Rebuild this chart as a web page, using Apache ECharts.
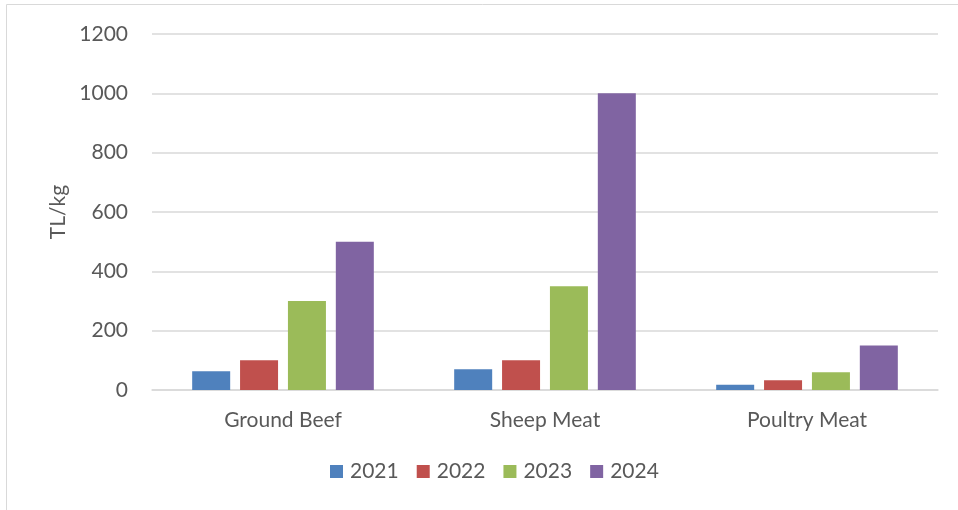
<!DOCTYPE html>
<html><head><meta charset="utf-8">
<script src="https://cdn.jsdelivr.net/npm/echarts@6/dist/echarts.min.js"></script>
<style>html,body{margin:0;padding:0;background:#fff}#c{width:958px;height:510px}</style>
</head><body><div id="c"></div>
<script>
const categories = ['Ground Beef', 'Sheep Meat', 'Poultry Meat'];
const years = ['2021', '2022', '2023', '2024'];
const s2021 = [63, 70, 18];
const s2022 = [100, 100, 33];
const s2023 = [300, 350, 60];
const s2024 = [500, 1000, 150];
const colors = ['#4f81bd', '#c0504d', '#9bbb59', '#8064a2'];
const seriesData = [s2021, s2022, s2023, s2024];
const font = 'Lato, "Noto Sans", sans-serif';
const chart = echarts.init(document.getElementById('c'));
chart.setOption({
  animation: false,
  textStyle: { fontFamily: font },
  graphic: [{ type: 'rect', shape: { x: 6.5, y: 4.5, width: 960, height: 510 }, style: { fill: 'none', stroke: '#d9d9d9', lineWidth: 1 }, silent: true }],
  grid: { left: 152, right: 20, top: 34, bottom: 120 },
  legend: {
    bottom: 23, left: 325, itemWidth: 13, itemHeight: 13, itemGap: 18,
    icon: 'rect',
    textStyle: { fontSize: 21, color: '#595959', fontFamily: font, padding: [0, 0, 0, 2] },
    data: years
  },
  xAxis: {
    type: 'category', data: categories,
    axisLine: { lineStyle: { color: '#d9d9d9', width: 1.5 } },
    axisTick: { show: false },
    axisLabel: { fontSize: 21, color: '#595959', margin: 20 }
  },
  yAxis: {
    type: 'value', min: 0, max: 1200, interval: 200,
    name: 'TL/kg', nameLocation: 'middle', nameGap: 82, nameRotate: 90,
    nameTextStyle: { fontSize: 21, color: '#595959' },
    axisLine: { show: false }, axisTick: { show: false },
    axisLabel: { fontSize: 21, color: '#595959', margin: 24, formatter: v => String(v) },
    splitLine: { lineStyle: { color: '#d9d9d9', width: 1.5 } }
  },
  series: years.map((y, i) => ({
    name: y, type: 'bar', data: seriesData[i], barWidth: 38, barGap: '26%',
    itemStyle: { color: colors[i] }
  }))
});
</script></body></html>
